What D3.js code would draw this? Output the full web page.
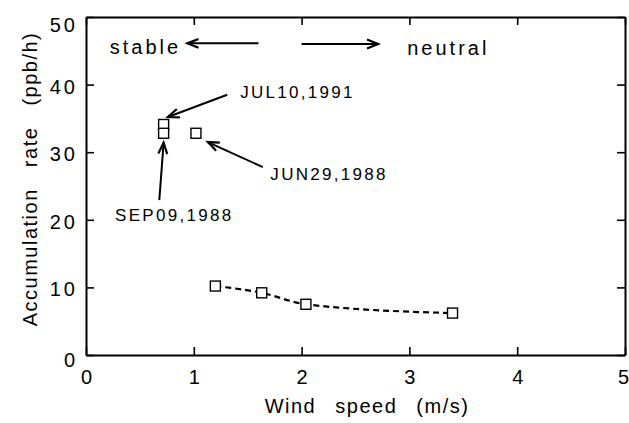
<!DOCTYPE html>
<html>
<head>
<meta charset="utf-8">
<script src="https://cdn.jsdelivr.net/npm/d3@7"></script>
<style>
  body { margin: 0; background: #fff; }
  svg { display: block; font-family: "Liberation Sans", Arial, sans-serif; }
  .axis path, .axis line { stroke: #000; }
  .axis path { stroke-width: 2; }
  .axis line { stroke-width: 1.6; }
  .axis text { font-size: 20px; letter-spacing: 3px; fill: #000; }
  .xax text { letter-spacing: 0; }
</style>
</head>
<body>
<div id="chart"></div>
<script>
// data
const xTicks = [0, 1, 2, 3, 4, 5];
const yTicks = [0, 10, 20, 30, 40, 50];

// stable cases (labelled days)
const stableX = [0.72, 0.72, 1.02];
const stableY = [34.1, 32.8, 32.8];

// neutral cases, joined by dashed curve
const neutralX = [1.20, 1.63, 2.04, 3.40];
const neutralY = [10.2, 9.2, 7.5, 6.2];

// annotations, in data units: [text x, text y, arrow from x, from y, arrow to x, to y]
const noteText = ['JUL10,1991', 'JUN29,1988', 'SEP09,1988'];
const notePos = [
  [1.43, 38.0, 1.31, 38.5, 0.76, 35.2],
  [1.71, 25.9, 1.64, 27.8, 1.13, 31.5],
  [0.27, 19.8, 0.68, 22.9, 0.72, 31.4]
];
const regimeText = ['stable', 'neutral'];
const regimePos = [
  [0.22, 44.5, 1.60, 46.1, 0.94, 46.1],
  [2.98, 44.4, 2.00, 46.0, 2.71, 46.0]
];

const W = 629, H = 423;
const margin = {top: 17, right: 4, bottom: 68, left: 86};
const cw = W - margin.left - margin.right;
const ch = H - margin.top - margin.bottom;

const svg = d3.select('#chart').append('svg').attr('width', W).attr('height', H);
const g = svg.append('g').attr('transform', `translate(${margin.left},${margin.top})`);

const x = d3.scaleLinear([0, 5], [0, cw]);
const y = d3.scaleLinear([0, 50], [ch, 0]);

// axes, ticks pointing inward
g.append('g').attr('class', 'axis xax').attr('transform', `translate(0,${ch})`)
  .call(d3.axisBottom(x).tickValues(xTicks).tickFormat(d3.format('d'))
    .tickSizeInner(-8).tickSizeOuter(0).tickPadding(15));
g.append('g').attr('class', 'axis')
  .call(d3.axisTop(x).tickValues(xTicks).tickFormat('').tickSizeInner(-8).tickSizeOuter(0));
const yAx = g.append('g').attr('class', 'axis')
  .call(d3.axisLeft(y).tickValues(yTicks).tickFormat(d3.format('d'))
    .tickSizeInner(-8).tickSizeOuter(0).tickPadding(8));
g.append('g').attr('class', 'axis').attr('transform', `translate(${cw},0)`)
  .call(d3.axisRight(y).tickValues(yTicks).tickFormat('').tickSizeInner(-8).tickSizeOuter(0));

g.selectAll('.axis .tick text').attr('font-family', null);
yAx.selectAll('.tick text').attr('dy', d => d === 50 ? '0.7em' : d === 0 ? '0.55em' : '0.42em');
g.select('.xax').selectAll('.tick text').attr('dx', d => d === 5 ? '-0.1em' : null);

// axis titles
svg.append('text').attr('x', 367).attr('y', 413).attr('text-anchor', 'middle')
  .style('font-size', '20px').style('letter-spacing', '1.5px').style('word-spacing', '12px')
  .text('Wind speed (m/s)');
svg.append('text').attr('transform', 'translate(37,179) rotate(-90)').attr('text-anchor', 'middle')
  .style('font-size', '20px').style('letter-spacing', '1.5px').style('word-spacing', '14px')
  .text('Accumulation rate (ppb/h)');

// arrowheads
function arrowHead(sel, x1, y1, x2, y2) {
  const a = Math.atan2(y2 - y1, x2 - x1), L = 12, s = 0.38;
  const p1 = [x2 - L * Math.cos(a - s), y2 - L * Math.sin(a - s)];
  const p2 = [x2 - L * Math.cos(a + s), y2 - L * Math.sin(a + s)];
  sel.append('path')
    .attr('d', `M${p1[0]},${p1[1]}L${x2},${y2}L${p2[0]},${p2[1]}`)
    .attr('fill', 'none').attr('stroke', '#000').attr('stroke-width', 2.2)
    .attr('stroke-linejoin', 'miter');
}
function drawNote(txt, p, size, ls) {
  g.append('text').attr('x', x(p[0])).attr('y', y(p[1]))
    .style('font-size', size + 'px').style('letter-spacing', ls + 'px').text(txt);
  g.append('line').attr('x1', x(p[2])).attr('y1', y(p[3])).attr('x2', x(p[4])).attr('y2', y(p[5]))
    .attr('stroke', '#000').attr('stroke-width', 2);
  arrowHead(g, x(p[2]), y(p[3]), x(p[4]), y(p[5]));
}
noteText.forEach((t, i) => drawNote(t, notePos[i], 17, 2.3));
regimeText.forEach((t, i) => drawNote(t, regimePos[i], 20, 3));

// dashed curve through neutral points
const neutral = neutralX.map((v, i) => ({x: v, y: neutralY[i]}));
const stable = stableX.map((v, i) => ({x: v, y: stableY[i]}));
g.append('path').datum(neutral)
  .attr('d', d3.line().x(d => x(d.x)).y(d => y(d.y)).curve(d3.curveMonotoneX))
  .attr('fill', 'none').attr('stroke', '#000').attr('stroke-width', 2.2)
  .attr('stroke-dasharray', '6,4');

const sq = 10;
g.selectAll('.pt').data(neutral.concat(stable)).join('rect').attr('class', 'pt')
  .attr('x', d => x(d.x) - sq / 2).attr('y', d => y(d.y) - sq / 2)
  .attr('width', sq).attr('height', sq)
  .attr('fill', '#fff').attr('stroke', '#000').attr('stroke-width', 1.4);
</script>
</body>
</html>
